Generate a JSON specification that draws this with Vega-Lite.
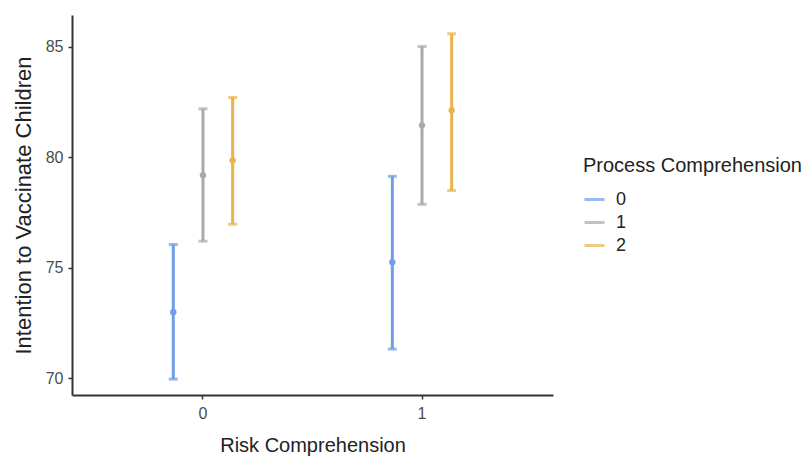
{
  "$schema": "https://vega.github.io/schema/vega-lite/v6.json",
  "width": 481,
  "height": 380,
  "autosize": "none",
  "padding": {"left": 72, "top": 15, "right": 256, "bottom": 66},
  "background": "white",
  "config": {
    "font": "Liberation Sans",
    "view": {"stroke": null},
    "axis": {"grid": false, "domainColor": "#333333", "domainWidth": 2, "tickColor": "#333333", "tickWidth": 1.5, "tickSize": 4, "labelColor": "#4d4d4d", "labelFontSize": 16, "titleColor": "#222222", "titleFontSize": 20, "titleFontWeight": "normal"}
  },
  "data": {
    "values": [
      {"risk": "0", "proc": "0", "mean": 72.98, "lo": 69.95, "hi": 76.05},
      {"risk": "0", "proc": "1", "mean": 79.19, "lo": 76.2, "hi": 82.2},
      {"risk": "0", "proc": "2", "mean": 79.86, "lo": 76.97, "hi": 82.71},
      {"risk": "1", "proc": "0", "mean": 75.25, "lo": 71.31, "hi": 79.14},
      {"risk": "1", "proc": "1", "mean": 81.45, "lo": 77.87, "hi": 85.02},
      {"risk": "1", "proc": "2", "mean": 82.13, "lo": 78.5, "hi": 85.6}
    ]
  },
  "encoding": {
    "x": {"field": "risk", "type": "nominal", "title": "Risk Comprehension",
      "scale": {"paddingInner": 0, "paddingOuter": 0.098},
      "axis": {"labelAngle": 0, "labelPadding": 6, "titlePadding": 14}},
    "xOffset": {"field": "proc", "type": "nominal", "scale": {"range": [65, 154], "paddingInner": 0, "paddingOuter": 0}},
    "color": {"field": "proc", "type": "nominal", "title": "Process Comprehension",
      "scale": {"domain": ["0", "1", "2"], "range": ["#6f9de8", "#a9a9a9", "#e9b44c"]},
      "legend": {"orient": "none", "legendX": 511, "legendY": 141, "titleFontSize": 20, "titleFontWeight": "normal", "titleColor": "#222222", "titleLimit": 300, "labelFontSize": 18, "labelColor": "#222222", "symbolType": "stroke", "symbolStrokeWidth": 3, "symbolSize": 400, "labelOffset": 10, "rowPadding": 2, "titlePadding": 12}}
  },
  "layer": [
    {
      "mark": {"type": "rule", "strokeWidth": 3},
      "encoding": {
        "y": {"field": "lo", "type": "quantitative", "title": "Intention to Vaccinate Children",
          "scale": {"domain": [69.23, 86.45], "nice": false, "zero": false},
          "axis": {"values": [70, 75, 80, 85], "labelPadding": 5, "titlePadding": 10, "titleFontSize": 22}},
        "y2": {"field": "hi"}
      }
    },
    {
      "mark": {"type": "tick", "thickness": 3, "size": 9},
      "encoding": {"y": {"field": "lo", "type": "quantitative"}}
    },
    {
      "mark": {"type": "tick", "thickness": 3, "size": 9},
      "encoding": {"y": {"field": "hi", "type": "quantitative"}}
    },
    {
      "mark": {"type": "point", "filled": true, "opacity": 1, "size": 40, "shape": "circle"},
      "encoding": {"y": {"field": "mean", "type": "quantitative"}}
    }
  ]
}
